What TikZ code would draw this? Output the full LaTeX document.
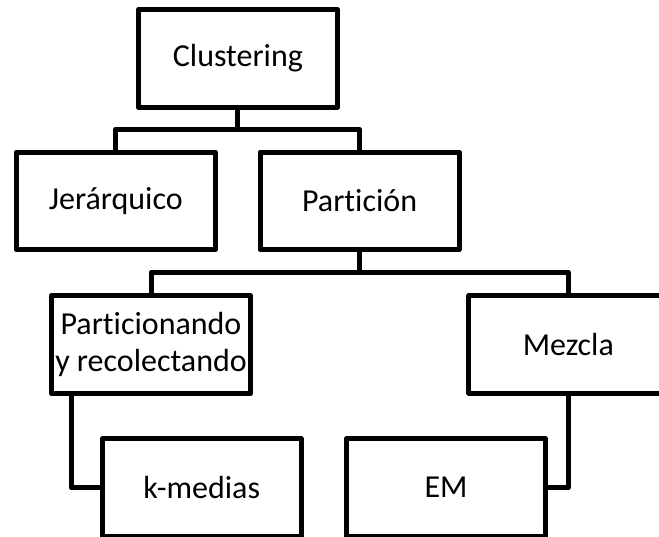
\documentclass[tikz,border=0pt]{standalone}
\usepackage{fontspec}
\setmainfont[Ligatures=NoCommon]{Carlito}
\begin{document}
\begin{tikzpicture}[x=1pt,y=1pt,
  box/.style={draw=black,line width=5pt,line join=round,fill=white,
    minimum width=199pt,minimum height=97.5pt,inner sep=0pt,align=center,
    font=\fontsize{32}{36.5}\selectfont},
  conn/.style={draw=black,line width=5pt,line join=round}]
\useasboundingbox (0,0) rectangle (659,537);
\clip (0,0) rectangle (659,537);
\fill[white] (0,0) rectangle (659,537);
\node[box] (cl) at (237.9,478.5) {Clustering};
\node[box] (je) at (115.8,336.2) {Jerárquico};
\node[box] (pa) at (359.6,336.2) {Partición};
\node[box] (pr) at (151,192.5) {Particionando\\y recolectando};
\node[box] (mz) at (568.3,192.5) {Mezcla};
\node[box] (km) at (201.7,49.5) {k-medias};
\node[box] (em) at (446,49.5) {EM};
\coordinate (j1) at (237.9,407.7);
\coordinate (j2) at (359.6,264.7);
\draw[conn] (cl.south) -- (j1);
\draw[conn] (je.north) |- (j1) -| (pa.north);
\draw[conn] (pa.south) -- (j2);
\draw[conn] (pr.north) |- (j2) -| (mz.north);
\draw[conn] ([xshift=22pt]pr.south west) |- (km.west);
\draw[conn] (mz.south) |- (em.east);
\end{tikzpicture}
\end{document}
